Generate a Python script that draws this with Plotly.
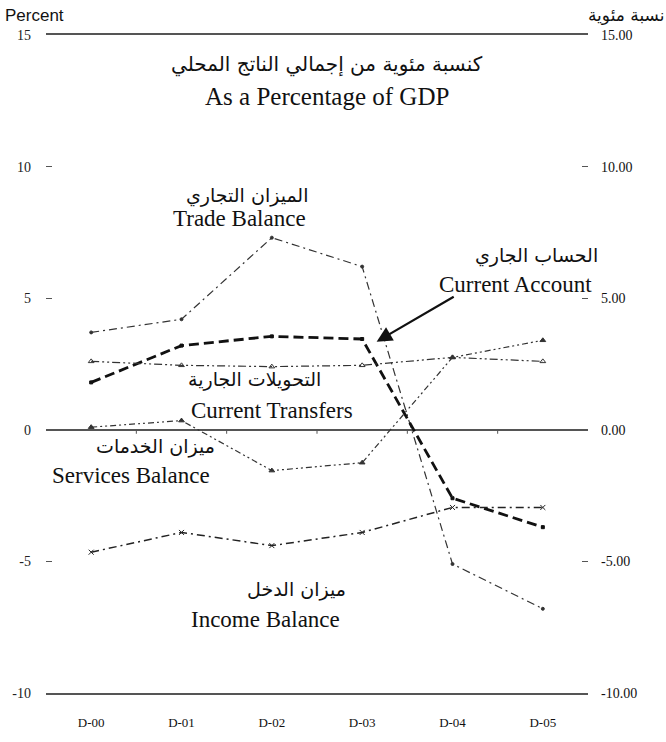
import plotly.graph_objects as go

# data (% of GDP)
years = ["D-00", "D-01", "D-02", "D-03", "D-04", "D-05"]
trade_balance = [3.7, 4.2, 7.3, 6.2, -5.1, -6.8]
current_account = [1.8, 3.2, 3.55, 3.45, -2.6, -3.7]
current_transfers = [2.6, 2.45, 2.4, 2.45, 2.75, 2.6]
services_balance = [0.1, 0.35, -1.55, -1.25, 2.75, 3.4]
income_balance = [-4.65, -3.9, -4.4, -3.9, -2.95, -2.95]

tick_vals = [-10, -5, 0, 5, 10, 15]
left_labels = ["-10", "-5", "0", "5", "10", "15"]
right_labels = ["-10.00", "-5.00", "0.00", "5.00", "10.00", "15.00"]

SERIF = "Liberation Serif, Times New Roman, serif"
ARABIC = "DejaVu Sans, Noto Sans, sans-serif"

fig = go.Figure()

series = [
    (trade_balance, "Trade Balance", dict(color="#333", width=1.2, dash="8px,4px,2px,4px"), "circle", 3),
    (current_account, "Current Account", dict(color="#111", width=2.8, dash="10px,5px"), "square", 3),
    (current_transfers, "Current Transfers", dict(color="#333", width=1.2, dash="8px,3px,2px,3px,2px,3px"), "triangle-up-open", 5),
    (services_balance, "Services Balance", dict(color="#333", width=1.2, dash="6px,3px,2px,3px,2px,3px"), "triangle-up", 5),
    (income_balance, "Income Balance", dict(color="#222", width=1.5, dash="8px,4px,2px,4px"), "x-thin-open", 5),
]
for vals, name, line, sym, size in series:
    fig.add_trace(go.Scatter(
        x=years, y=vals, name=name, mode="lines+markers",
        line=line, marker=dict(symbol=sym, size=size, color=line["color"],
                               line=dict(color=line["color"], width=1)),
        showlegend=False
    ))

# invisible trace to carry the right-hand axis
fig.add_trace(go.Scatter(x=years, y=current_account, yaxis="y2",
                         mode="lines", line=dict(width=0), hoverinfo="skip",
                         showlegend=False))

# small ticks on the zero line between categories
shapes = []
for i in range(len(years) - 1):
    shapes.append(dict(type="line", xref="x", yref="y", x0=i + 0.5, x1=i + 0.5,
                       y0=0, y1=-0.15, line=dict(color="#555", width=1)))

fig.update_layout(
    width=666, height=742,
    margin=dict(l=45, r=78, t=35, b=46),
    paper_bgcolor="white", plot_bgcolor="white",
    shapes=shapes,
    xaxis=dict(
        type="category", range=[-0.5, 5.5],
        showgrid=False, zeroline=False,
        showline=True, mirror=True, linecolor="#555", linewidth=1.5,
        ticks="", ticklabelstandoff=17,
        tickfont=dict(family=SERIF, size=13, color="#111"),
    ),
    yaxis=dict(
        range=[-10, 15], tickvals=tick_vals, ticktext=left_labels,
        showgrid=False, zeroline=True, zerolinecolor="#555", zerolinewidth=1.5,
        showline=False, ticks="inside", ticklen=6, tickcolor="#555",
        ticklabelstandoff=14,
        tickfont=dict(family=SERIF, size=14, color="#222"),
    ),
    yaxis2=dict(
        range=[-10, 15], tickvals=tick_vals, ticktext=right_labels,
        overlaying="y", side="right", showgrid=False, zeroline=False,
        showline=False, ticks="inside", ticklen=6, tickcolor="#555",
        ticklabelstandoff=12,
        tickfont=dict(family=SERIF, size=14, color="#111"),
    ),
)

def label(x, y, text, font, size, **kw):
    fig.add_annotation(x=x, y=y, xref="x", yref="y", text=text, showarrow=False,
                       font=dict(family=font, size=size, color="#111"), **kw)

# title
label(2.616, 13.87, "كنسبة مئوية من إجمالي الناتج المحلي", ARABIC, 20)
label(2.616, 12.66, "As a Percentage of GDP", SERIF, 25)

# series labels
label(1.72, 8.92, "الميزان التجاري", ARABIC, 19)
label(1.64, 8.04, "Trade Balance", SERIF, 23)
label(4.93, 6.62, "الحساب الجاري", ARABIC, 19)
label(4.70, 5.51, "Current Account", SERIF, 23)
label(1.81, 1.92, "التحويلات الجارية", ARABIC, 19)
label(2.0, 0.74, "Current Transfers", SERIF, 23)
label(0.715, -0.62, "ميزان الخدمات", ARABIC, 19)
label(0.44, -1.72, "Services Balance", SERIF, 23)
label(2.27, -6.06, "ميزان الدخل", ARABIC, 19)
label(1.93, -7.19, "Income Balance", SERIF, 23)

# arrow pointing at the current account line
fig.add_annotation(x=3.16, y=3.35, ax=4.03, ay=5.09, xref="x", yref="y",
                   axref="x", ayref="y", text="", showarrow=True,
                   arrowhead=2, arrowsize=1.4, arrowwidth=2.2, arrowcolor="#111")

# axis captions
fig.add_annotation(x=0, y=1, xref="paper", yref="paper", xshift=-43, yshift=8,
                   text="Percent", showarrow=False, xanchor="left", yanchor="bottom",
                   font=dict(family="Liberation Sans, Arial, sans-serif", size=17, color="#111"))
fig.add_annotation(x=1, y=1, xref="paper", yref="paper", xshift=38, yshift=8,
                   text="نسبة مئوية", showarrow=False, xanchor="center", yanchor="bottom",
                   font=dict(family=ARABIC, size=17, color="#111"))

# drop the default page margin so the figure fills the window exactly
fig.write_html("out.html", config={"displayModeBar": False}, post_script=(
    "document.documentElement.style.overflow='hidden';"
    "document.body.style.margin='0';"
    "document.body.style.overflow='hidden';"
))
